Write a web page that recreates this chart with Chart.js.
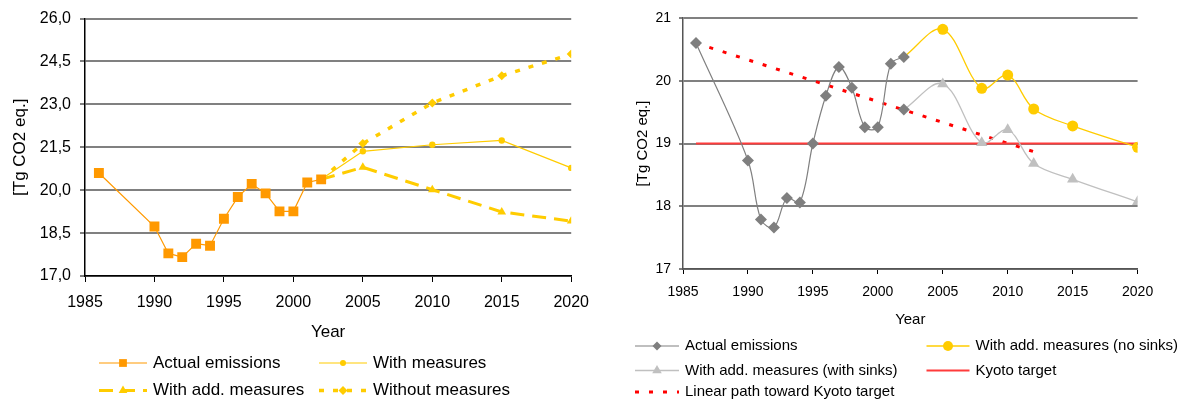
<!DOCTYPE html>
<html>
<head>
<meta charset="utf-8">
<script src="https://cdn.jsdelivr.net/npm/chart.js@4/dist/chart.umd.min.js"></script>
<style>
  html, body { margin: 0; padding: 0; background: #fff; }
  #wrap { position: relative; width: 1186px; height: 400px; overflow: hidden; }
  #c1 { position: absolute; left: 0; top: 0; }
  #c2 { position: absolute; left: 600px; top: 0; }
</style>
</head>
<body>
<div id="wrap">
  <canvas id="c1" width="600" height="400"></canvas>
  <canvas id="c2" width="586" height="400"></canvas>
</div>
<script>
// Greenhouse gas emissions, Tg CO2 equivalent
const historicYears = [1986, 1990, 1991, 1992, 1993, 1994, 1995, 1996, 1997, 1998, 1999, 2000, 2001, 2002];
const actualEmissions = [20.60, 18.73, 17.79, 17.66, 18.13, 18.06, 19.00, 19.76, 20.22, 19.89, 19.26, 19.26, 20.27, 20.38];

// Scenario projections (left panel)
const scenarioYears = [2002, 2005, 2010, 2015, 2020];
const withMeasures = [20.38, 21.36, 21.59, 21.74, 20.78];
const withAddMeasures = [20.38, 20.80, 20.02, 19.24, 18.92];
const withoutMeasures = [20.38, 21.63, 23.05, 24.00, 24.76];

// Additional-measures projections (right panel)
const projectionYears = [2002, 2005, 2008, 2010, 2012, 2015, 2020];
const addMeasuresNoSinks = [20.38, 20.82, 19.88, 20.09, 19.55, 19.28, 18.94];
const addMeasuresWithSinks = [19.54, 19.95, 19.01, 19.22, 18.68, 18.43, 18.07];

// Kyoto target and the linear path toward it
const kyotoYears = [1986, 2020];
const kyotoTarget = [19.0, 19.0];
const linearPathYears = [1986, 2012];
const linearPath = [20.60, 18.87];

// Axis ticks
const yearTicks = [1985, 1990, 1995, 2000, 2005, 2010, 2015, 2020];
const leftValueTicks = [17.0, 18.5, 20.0, 21.5, 23.0, 24.5, 26.0];
const rightValueTicks = [17, 18, 19, 20, 21];

const pts = (xs, ys) => xs.map((x, i) => ({ x: x, y: ys[i] }));

Chart.defaults.font.family = "'Liberation Sans', Arial, sans-serif";
Chart.defaults.color = '#000';

function drawMarker(ctx, style, x, y, r, color) {
  ctx.save();
  ctx.fillStyle = color;
  ctx.beginPath();
  if (style === 'rect') {
    const s = r * Math.SQRT1_2;
    ctx.rect(x - s, y - s, 2 * s, 2 * s);
  } else if (style === 'rectRot') {
    ctx.moveTo(x - r, y); ctx.lineTo(x, y - r); ctx.lineTo(x + r, y); ctx.lineTo(x, y + r);
    ctx.closePath();
  } else if (style === 'triangle') {
    const a = Math.PI * 2 / 3;
    ctx.moveTo(x, y - r);
    ctx.lineTo(x + Math.sin(a) * r, y - Math.cos(a) * r);
    ctx.lineTo(x + Math.sin(2 * a) * r, y - Math.cos(2 * a) * r);
    ctx.closePath();
  } else {
    ctx.arc(x, y, r, 0, Math.PI * 2);
  }
  ctx.fill();
  ctx.restore();
}

// Legend laid out in fixed columns below the plot
function columnLegend(fontSize, items) {
  return {
    id: 'columnLegend',
    afterDraw(chart) {
      const ctx = chart.ctx;
      ctx.save();
      ctx.font = fontSize + "px 'Liberation Sans', Arial, sans-serif";
      ctx.textBaseline = 'middle';
      ctx.textAlign = 'left';
      items.forEach(it => {
        const ds = chart.data.datasets[it.dataset];
        ctx.save();
        ctx.strokeStyle = ds.borderColor;
        ctx.lineWidth = ds.borderWidth;
        ctx.setLineDash(ds.borderDash || []);
        ctx.beginPath();
        ctx.moveTo(it.x0, it.y);
        ctx.lineTo(it.x1, it.y);
        ctx.stroke();
        ctx.restore();
        if (it.marker) {
          drawMarker(ctx, it.marker, (it.x0 + it.x1) / 2, it.y, it.r, it.markerColor || ds.borderColor);
        }
        ctx.fillStyle = '#000';
        ctx.fillText(ds.label, it.x1 + 6, it.y);
      });
      ctx.restore();
    }
  };
}

function yearAxis(o) {
  return {
    type: 'linear', min: 1985, max: 2020,
    afterBuildTicks: s => { s.ticks = yearTicks.map(v => ({ value: v })); },
    afterFit: s => { s.height = o.height; },
    ticks: { font: { size: o.tickSize }, padding: o.tickPad, color: '#000', autoSkip: false, maxRotation: 0,
             callback: v => String(v) },
    grid: { drawOnChartArea: false, drawTicks: true, tickLength: o.tickLen, tickColor: '#000', tickWidth: 1 },
    border: { color: o.borderColor, width: 1.5 },
    title: { display: true, text: 'Year', color: '#000', font: { size: o.titleSize },
             padding: { top: 0, bottom: o.titleBottom } }
  };
}

function valueAxis(o) {
  return {
    type: 'linear', min: o.min, max: o.max,
    afterBuildTicks: s => { s.ticks = o.ticks.map(v => ({ value: v })); },
    afterFit: s => { s.width = o.width; },
    ticks: { font: { size: o.tickSize }, padding: o.tickPad, color: '#000', callback: o.format },
    grid: { color: '#808080', lineWidth: 2, drawTicks: true, tickLength: o.tickLen, tickColor: '#000', tickWidth: 1 },
    border: { color: o.borderColor, width: 1.5 },
    title: { display: true, text: '[Tg CO2 eq.]', color: '#000', font: { size: o.titleSize },
             padding: { top: o.titlePad, bottom: 0 } }
  };
}

const hideFirst = (r) => (c => c.dataIndex === 0 ? 0 : r);

// Left panel: emission scenarios
new Chart(document.getElementById('c1'), {
  type: 'line',
  data: {
    datasets: [
      { label: 'Actual emissions', data: pts(historicYears, actualEmissions),
        borderColor: '#FF9900', backgroundColor: '#FF9900', borderWidth: 1.2,
        pointStyle: 'rect', pointRadius: 7, pointBorderWidth: 0, pointBackgroundColor: '#FF9900', tension: 0 },
      { label: 'With measures', data: pts(scenarioYears, withMeasures),
        borderColor: '#FFCC00', backgroundColor: '#FFCC00', borderWidth: 1.2,
        pointStyle: 'circle', pointRadius: hideFirst(3.2), pointBorderWidth: 0, pointBackgroundColor: '#FFCC00', tension: 0 },
      { label: 'With add. measures', data: pts(scenarioYears, withAddMeasures),
        borderColor: '#FFCC00', backgroundColor: '#FFCC00', borderWidth: 3, borderDash: [14, 8],
        pointStyle: 'triangle', pointRadius: hideFirst(5), pointBorderWidth: 0, pointBackgroundColor: '#FFCC00', tension: 0 },
      { label: 'Without measures', data: pts(scenarioYears, withoutMeasures),
        borderColor: '#FFCC00', backgroundColor: '#FFCC00', borderWidth: 3.5, borderDash: [5, 9],
        pointStyle: 'rectRot', pointRadius: hideFirst(4.5), pointBorderWidth: 0, pointBackgroundColor: '#FFCC00', tension: 0 }
    ]
  },
  options: {
    responsive: false, animation: false, events: [],
    layout: { padding: { top: 18, right: 20, bottom: 0, left: 0 } },
    scales: {
      x: yearAxis({ height: 124, tickSize: 16, tickPad: 11, tickLen: 6, titleSize: 17, titleBottom: 57, borderColor: '#000' }),
      y: valueAxis({ min: 17, max: 26, ticks: leftValueTicks, width: 85, tickSize: 16, tickPad: 9, tickLen: 5,
                     titleSize: 17, titlePad: 10, borderColor: '#000',
                     format: v => v.toFixed(1).replace('.', ',') })
    },
    plugins: { legend: { display: false }, tooltip: { enabled: false } }
  },
  plugins: [columnLegend(17, [
    { dataset: 0, x0: 99, x1: 147, y: 363, marker: 'rect', r: 5.5 },
    { dataset: 1, x0: 319, x1: 367, y: 363, marker: 'circle', r: 3 },
    { dataset: 2, x0: 99, x1: 147, y: 390.5, marker: 'triangle', r: 5 },
    { dataset: 3, x0: 319, x1: 367, y: 390.5, marker: 'rectRot', r: 4.5 }
  ])]
});

// Right panel: additional measures against the Kyoto target
new Chart(document.getElementById('c2'), {
  type: 'line',
  data: {
    datasets: [
      { label: 'Actual emissions', data: pts(historicYears, actualEmissions),
        borderColor: '#808080', backgroundColor: '#808080', borderWidth: 1.2,
        pointStyle: 'rectRot', pointRadius: 6, pointBorderWidth: 0, pointBackgroundColor: '#7F7F7F', tension: 0.35 },
      { label: 'With add. measures (no sinks)', data: pts(projectionYears, addMeasuresNoSinks),
        borderColor: '#FFCC00', backgroundColor: '#FFCC00', borderWidth: 1.3,
        pointStyle: 'circle', pointRadius: hideFirst(5.5), pointBorderWidth: 0, pointBackgroundColor: '#FFCC00', tension: 0.35 },
      { label: 'With add. measures (with sinks)', data: pts(projectionYears, addMeasuresWithSinks),
        borderColor: '#C0C0C0', backgroundColor: '#C0C0C0', borderWidth: 1.3,
        pointStyle: c => c.dataIndex === 0 ? 'rectRot' : 'triangle',
        pointRadius: c => c.dataIndex === 0 ? 6 : 6.5, pointBorderWidth: 0,
        pointBackgroundColor: c => c.dataIndex === 0 ? '#7F7F7F' : '#C0C0C0', tension: 0.35 },
      { label: 'Kyoto target', data: pts(kyotoYears, kyotoTarget),
        borderColor: '#FF3B3B', borderWidth: 2, pointRadius: 0, tension: 0 },
      { label: 'Linear path toward Kyoto target', data: pts(linearPathYears, linearPath),
        borderColor: '#FF0000', borderWidth: 3, borderDash: [4, 10], pointRadius: 0, tension: 0 }
    ]
  },
  options: {
    responsive: false, animation: false, events: [],
    layout: { padding: { top: 18, right: 48.4, bottom: 0, left: 0 } },
    scales: {
      x: yearAxis({ height: 131, tickSize: 14, tickPad: 10, tickLen: 5, titleSize: 15, titleBottom: 71, borderColor: '#555' }),
      y: valueAxis({ min: 17, max: 21, ticks: rightValueTicks, width: 83, tickSize: 14, tickPad: 8, tickLen: 4,
                     titleSize: 15, titlePad: 34, borderColor: '#555',
                     format: v => String(v) })
    },
    plugins: { legend: { display: false }, tooltip: { enabled: false } }
  },
  plugins: [columnLegend(15, [
    { dataset: 0, x0: 35, x1: 79, y: 346, marker: 'rectRot', r: 4.5, markerColor: '#7F7F7F' },
    { dataset: 1, x0: 326.5, x1: 369.5, y: 346, marker: 'circle', r: 5 },
    { dataset: 2, x0: 35, x1: 79, y: 370.5, marker: 'triangle', r: 5.5 },
    { dataset: 3, x0: 326.5, x1: 369.5, y: 370.5 },
    { dataset: 4, x0: 35, x1: 79, y: 392 }
  ])]
});
</script>
</body>
</html>
